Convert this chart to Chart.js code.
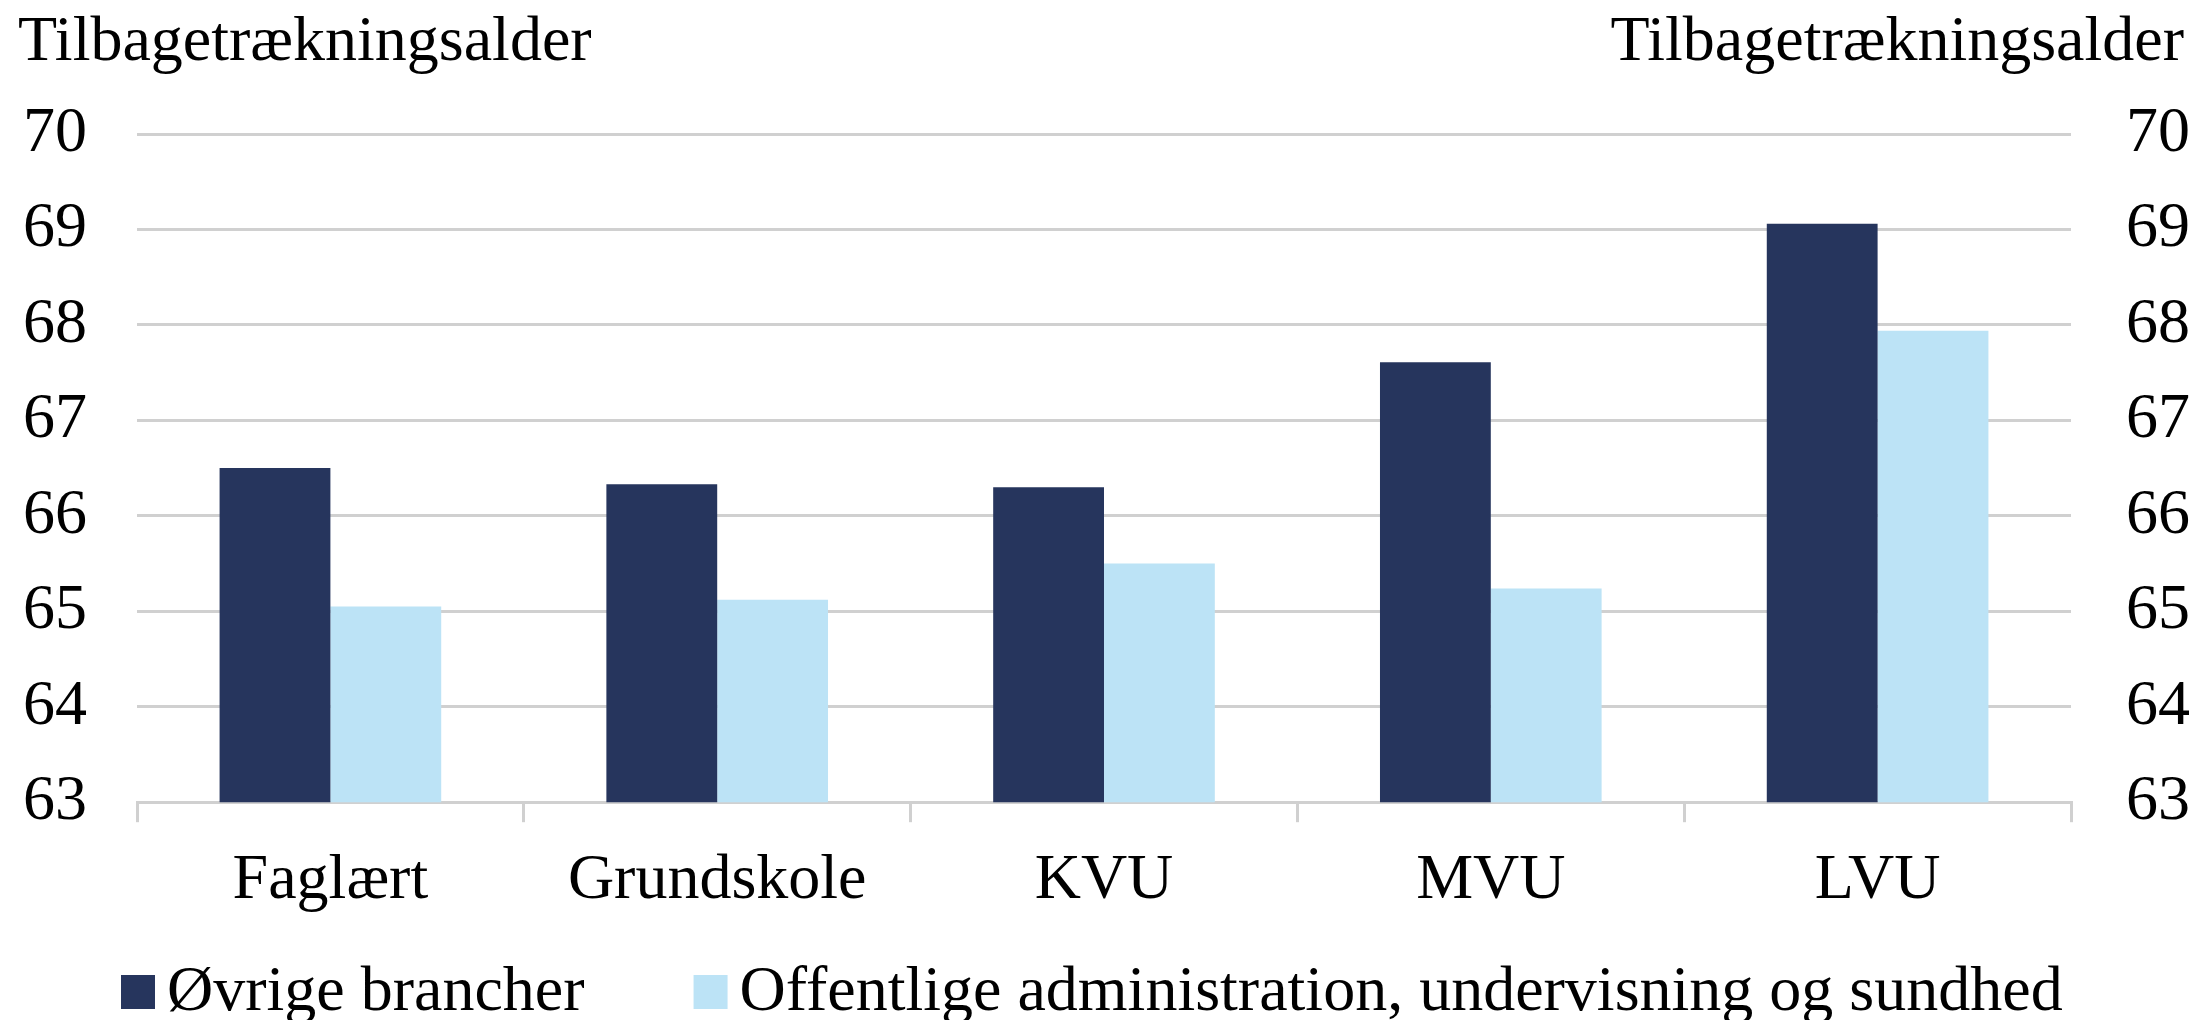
<!DOCTYPE html>
<html lang="da">
<head>
<meta charset="utf-8">
<title>Tilbagetrækningsalder</title>
<script src="https://cdn.jsdelivr.net/npm/chart.js@4.4.1/dist/chart.umd.min.js"></script>
<style>
  html, body { margin: 0; padding: 0; background: #fff; }
  #wrap { width: 2196px; height: 1020px; }
</style>
</head>
<body>
<div id="wrap"><canvas id="chart" width="2196" height="1020"></canvas></div>
<script>
// Gennemsnitlig tilbagetrækningsalder fordelt på uddannelse
const categories = ['Faglært', 'Grundskole', 'KVU', 'MVU', 'LVU'];
const seriesNames = ['Øvrige brancher', 'Offentlige administration, undervisning og sundhed'];
const oevrigeBrancher = [66.5, 66.33, 66.3, 67.61, 69.06];
const offentligeBrancher = [65.05, 65.12, 65.5, 65.24, 67.94];
const yTicks = [63, 64, 65, 66, 67, 68, 69, 70];
const axisLabel = 'Tilbagetrækningsalder';

const FONT = '"Liberation Serif", "Times New Roman", serif';
const GRID = '#d0d0d0';

Chart.defaults.font.family = FONT;
Chart.defaults.font.size = 64;
Chart.defaults.color = '#000';

// Enhedstekst over begge y-akser
const axisLabels = {
    id: 'axisLabels',
    afterDraw(chart) {
        const ctx = chart.ctx;
        ctx.save();
        ctx.font = '64px ' + FONT;
        ctx.fillStyle = '#000';
        ctx.textBaseline = 'alphabetic';
        ctx.textAlign = 'left';
        ctx.fillText(axisLabel, 18, 60);
        ctx.textAlign = 'right';
        ctx.fillText(axisLabel, chart.width - 12, 60);
        ctx.restore();
    }
};

// Signaturforklaring i bunden: tæt afstand mellem kasse og tekst
const bottomLegend = {
    id: 'bottomLegend',
    afterDraw(chart) {
        const ctx = chart.ctx;
        const box = 34;
        const baseline = 1010;
        let x = 121;
        ctx.save();
        ctx.font = '64px ' + FONT;
        ctx.textBaseline = 'alphabetic';
        ctx.textAlign = 'left';
        chart.data.datasets.forEach(ds => {
            ctx.fillStyle = ds.backgroundColor;
            ctx.fillRect(x, baseline - box - 1, box, box);
            ctx.fillStyle = '#000';
            ctx.fillText(ds.label, x + box + 12, baseline);
            x += box + 12 + ctx.measureText(ds.label).width + 109;
        });
        ctx.restore();
    }
};

function setTicks(scale) {
    scale.ticks = yTicks.map(v => ({ value: v }));
}

const ctx = document.getElementById('chart').getContext('2d');
new Chart(ctx, {
    type: 'bar',
    data: {
        labels: categories,
        datasets: [
            {
                label: seriesNames[0],
                data: oevrigeBrancher,
                backgroundColor: '#26355d',
                borderWidth: 0
            },
            {
                label: seriesNames[1],
                data: offentligeBrancher,
                backgroundColor: '#bce3f6',
                borderWidth: 0
            }
        ]
    },
    options: {
        responsive: false,
        animation: false,
        devicePixelRatio: 1,
        categoryPercentage: 0.573,
        barPercentage: 1,
        layout: {
            padding: { top: 134, left: 0, right: 0, bottom: 79 }
        },
        scales: {
            x: {
                offset: true,
                grid: {
                    offset: true,
                    drawOnChartArea: false,
                    drawTicks: true,
                    tickLength: 20,
                    color: GRID,
                    lineWidth: 3
                },
                border: { display: true, color: GRID, width: 3 },
                ticks: { padding: 21, font: { size: 64 } }
            },
            y: {
                position: 'left',
                min: 63,
                max: 70,
                afterBuildTicks: setTicks,
                afterFit(scale) { scale.width = 137; },
                grid: { color: GRID, lineWidth: 3, drawTicks: false },
                border: { display: false },
                ticks: { padding: 50, font: { size: 64 } }
            },
            y2: {
                position: 'right',
                min: 63,
                max: 70,
                afterBuildTicks: setTicks,
                afterFit(scale) { scale.width = 125; },
                grid: { display: false, drawTicks: false },
                border: { display: false },
                ticks: { padding: 55, font: { size: 64 } }
            }
        },
        plugins: {
            legend: { display: false },
            tooltip: { enabled: false }
        }
    },
    plugins: [axisLabels, bottomLegend]
});
</script>
</body>
</html>
